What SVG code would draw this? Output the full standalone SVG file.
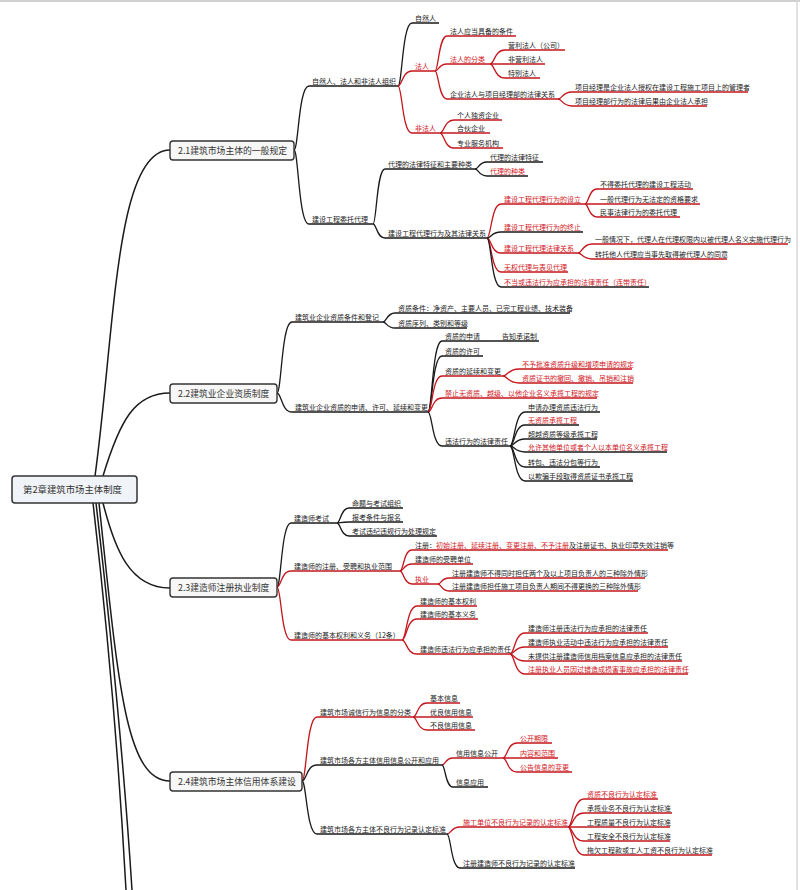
<svg xmlns="http://www.w3.org/2000/svg" width="800" height="890" viewBox="0 0 800 890">
<style>
.t{font-family:"Noto Sans CJK SC","Noto Sans",sans-serif;font-size:7px;fill:#222}
.r{font-family:"Noto Sans CJK SC","Noto Sans",sans-serif;font-size:7px;fill:#d2161c}
.bt{font-family:"Noto Sans CJK SC","Noto Sans",sans-serif;font-size:8.8px;fill:#333}
.rt{font-family:"Noto Sans CJK SC","Noto Sans",sans-serif;font-size:9.4px;fill:#333}
.box{fill:#f7f7f7;stroke:#333;stroke-width:1.4}
.root{fill:#f0f4f8;stroke:#333;stroke-width:1.5}
.lb{fill:none;stroke:#1a1a1a;stroke-width:1.3}
.lr{fill:none;stroke:#c4161c;stroke-width:1.3}
.tr{fill:none;stroke:#1a1a1a;stroke-width:1.5}
</style>
<rect x="0" y="0" width="800" height="890" fill="#fff"/>
<line x1="0" y1="1" x2="800" y2="1" stroke="#d0d0d0" stroke-width="2"/>
<line x1="797" y1="0" x2="797" y2="890" stroke="#d8d8d8" stroke-width="1.5"/>
<g id="connectors">
<!-- trunk -->
<path class="tr" d="M95 476 C115 330 115 150 170 150"/>
<path class="tr" d="M103 476 C120 420 135 393 170 393"/>
<path class="tr" d="M103 503 C115 550 130 588 170 588"/>
<path class="tr" d="M99 503 C118 680 125 781 170 781"/>
<path class="tr" d="M93 503 C110 650 120 780 126 890"/>
<path class="tr" d="M96 503 C113 650 125 780 132 890"/>
<!-- 2.1 -->
<path class="lb" d="M294 150 C298.5 150 298.5 86 309 86 H398"/>
<path class="lb" d="M294 150 C298.5 150 298.5 224 309 224 H373"/>
<path class="lb" d="M398 86 C402.2 86 402.2 23 412 23 H439"/>
<path class="lr" d="M398 86 C402.2 86 402.2 71 412 71 H435"/>
<path class="lr" d="M398 86 C402.2 86 402.2 133 412 133 H440"/>
<path class="lr" d="M435 71 C438.6 71 438.6 36 447 36 H516"/>
<path class="lr" d="M435 71 C438.6 71 438.6 64 447 64 H490"/>
<path class="lr" d="M435 71 C438.6 71 438.6 99 447 99 H558"/>
<path class="lr" d="M490 64 C494.5 64 494.5 50 505 50 H565"/>
<path class="lr" d="M490 64 C494.5 64 494.5 64 505 64 H545"/>
<path class="lr" d="M490 64 C494.5 64 494.5 78 505 78 H540"/>
<path class="lr" d="M558 99 C562.2 99 562.2 92 572 92 H748"/>
<path class="lr" d="M558 99 C562.2 99 562.2 106 572 106 H707"/>
<path class="lr" d="M440 133 C444.2 133 444.2 120 454 120 H502"/>
<path class="lr" d="M440 133 C444.2 133 444.2 133 454 133 H490"/>
<path class="lr" d="M440 133 C444.2 133 444.2 148 454 148 H503"/>
<path class="lb" d="M373 224 C376.6 224 376.6 169 385 169 H475"/>
<path class="lb" d="M373 224 C376.6 224 376.6 238 385 238 H487"/>
<path class="lb" d="M475 169 C478.6 169 478.6 162 487 162 H543"/>
<path class="lb" d="M475 169 C478.6 169 478.6 176 487 176 H528"/>
<path class="lr" d="M487 238 C491.2 238 491.2 204 501 204 H585"/>
<path class="lb" d="M487 238 C491.2 238 491.2 232 501 232 H583"/>
<path class="lr" d="M487 238 C491.2 238 491.2 253 501 253 H578"/>
<path class="lr" d="M487 238 C491.2 238 491.2 272 501 272 H568"/>
<path class="lb" d="M487 238 C491.2 238 491.2 287 501 287 H649"/>
<path class="lr" d="M585 204 C588.6 204 588.6 189 597 189 H693"/>
<path class="lr" d="M585 204 C588.6 204 588.6 204 597 204 H700"/>
<path class="lr" d="M585 204 C588.6 204 588.6 217 597 217 H680"/>
<path class="lr" d="M578 253 C582.2 253 582.2 244 592 244 H788"/>
<path class="lr" d="M578 253 C582.2 253 582.2 259 592 259 H727"/>
<!-- 2.2 -->
<path class="lb" d="M277 393 C281.5 393 281.5 322 292 322 H383"/>
<path class="lb" d="M277 393 C281.5 393 281.5 412 292 412 H428"/>
<path class="lb" d="M383 322 C386.6 322 386.6 313 395 313 H570"/>
<path class="lb" d="M383 322 C386.6 322 386.6 328 395 328 H467"/>
<path class="lb" d="M428 412 C432.2 412 432.2 341 442 341 H485"/>
<path class="lb" d="M485 341 H539"/>
<path class="lb" d="M428 412 C432.2 412 432.2 356 442 356 H483"/>
<path class="lr" d="M428 412 C432.2 412 432.2 376 442 376 H503"/>
<path class="lr" d="M428 412 C432.2 412 432.2 398 442 398 H597"/>
<path class="lb" d="M428 412 C432.2 412 432.2 446 442 446 H510"/>
<path class="lr" d="M503 376 C507.8 376 507.8 369 519 369 H632"/>
<path class="lr" d="M503 376 C507.8 376 507.8 383 519 383 H633"/>
<path class="lb" d="M510 446 C514.5 446 514.5 412 525 412 H600"/>
<path class="lb" d="M510 446 C514.5 446 514.5 425 525 425 H579"/>
<path class="lb" d="M510 446 C514.5 446 514.5 439 525 439 H597"/>
<path class="lb" d="M510 446 C514.5 446 514.5 452 525 452 H667"/>
<path class="lb" d="M510 446 C514.5 446 514.5 467 525 467 H600"/>
<path class="lb" d="M510 446 C514.5 446 514.5 481 525 481 H633"/>
<!-- 2.3 -->
<path class="lb" d="M277 587 C281.2 587 281.2 523 291 523 H337"/>
<path class="lr" d="M277 587 C281.2 587 281.2 571 291 571 H400"/>
<path class="lr" d="M277 587 C281.2 587 281.2 640 291 640 H402"/>
<path class="lb" d="M337 523 C340.6 523 340.6 508 349 508 H403"/>
<path class="lb" d="M337 523 C340.6 523 340.6 522 349 522 H403"/>
<path class="lb" d="M337 523 C340.6 523 340.6 536 349 536 H437"/>
<path class="lr" d="M400 571 C403.6 571 403.6 550 412 550 H668"/>
<path class="lr" d="M400 571 C403.6 571 403.6 564 412 564 H473"/>
<path class="lr" d="M400 571 C403.6 571 403.6 584 412 584 H438"/>
<path class="lr" d="M438 584 C441.3 584 441.3 578 449 578 H645"/>
<path class="lr" d="M438 584 C441.3 584 441.3 591 449 591 H638"/>
<path class="lr" d="M402 640 C406.5 640 406.5 606 417 606 H477"/>
<path class="lr" d="M402 640 C406.5 640 406.5 619 417 619 H478"/>
<path class="lr" d="M402 640 C406.5 640 406.5 654 417 654 H510"/>
<path class="lr" d="M510 654 C514.5 654 514.5 633 525 633 H648"/>
<path class="lr" d="M510 654 C514.5 654 514.5 647 525 647 H668"/>
<path class="lr" d="M510 654 C514.5 654 514.5 661 525 661 H682"/>
<path class="lr" d="M510 654 C514.5 654 514.5 674 525 674 H688"/>
<!-- 2.4 -->
<path class="lr" d="M302 781 C306.5 781 306.5 717 317 717 H413"/>
<path class="lb" d="M302 781 C306.5 781 306.5 765 317 765 H442"/>
<path class="lb" d="M302 781 C306.5 781 306.5 834 317 834 H447"/>
<path class="lr" d="M413 717 C417.2 717 417.2 703 427 703 H460"/>
<path class="lr" d="M413 717 C417.2 717 417.2 717 427 717 H473"/>
<path class="lr" d="M413 717 C417.2 717 417.2 730 427 730 H475"/>
<path class="lr" d="M442 765 C445.3 765 445.3 758 453 758 H503"/>
<path class="lb" d="M442 765 C445.3 765 445.3 787 453 787 H488"/>
<path class="lr" d="M503 758 C507.2 758 507.2 743 517 743 H552"/>
<path class="lr" d="M503 758 C507.2 758 507.2 758 517 758 H558"/>
<path class="lr" d="M503 758 C507.2 758 507.2 772 517 772 H572"/>
<path class="lr" d="M447 834 C450.9 834 450.9 827 460 827 H568"/>
<path class="lb" d="M447 834 C450.9 834 450.9 868 460 868 H575"/>
<path class="lr" d="M568 827 C572.8 827 572.8 799 584 799 H658"/>
<path class="lr" d="M568 827 C572.8 827 572.8 813 584 813 H672"/>
<path class="lr" d="M568 827 C572.8 827 572.8 827 584 827 H670"/>
<path class="lr" d="M568 827 C572.8 827 572.8 841 584 841 H670"/>
<path class="lr" d="M568 827 C572.8 827 572.8 855 584 855 H712"/>
</g>
<g id="root"><rect class="root" x="12" y="476" width="125" height="27" rx="3"/><text class="rt" x="23" y="492.5">第2章建筑市场主体制度</text></g>
<g id="s21"><rect class="box" x="170" y="141" width="124" height="19" rx="3"/><text class="bt" x="178" y="154">2.1建筑市场主体的一般规定</text></g>
<g id="s22"><rect class="box" x="170" y="384" width="107" height="19" rx="3"/><text class="bt" x="178" y="396.5">2.2建筑业企业资质制度</text></g>
<g id="s23"><rect class="box" x="170" y="578" width="107" height="19" rx="3"/><text class="bt" x="178" y="590.5">2.3建造师注册执业制度</text></g>
<g id="s24"><rect class="box" x="170" y="772" width="132" height="19" rx="3"/><text class="bt" x="178" y="784.5">2.4建筑市场主体信用体系建设</text></g>
<g id="n21">
<text class="t" x="312" y="83.5">自然人、法人和非法人组织</text>
<text class="t" x="312" y="221.5">建设工程委托代理</text>
<text class="t" x="415" y="20.5">自然人</text>
<text class="r" x="415" y="68.5">法人</text>
<text class="r" x="415" y="130.5">非法人</text>
<text class="t" x="450" y="33.5">法人应当具备的条件</text>
<text class="r" x="450" y="61.5">法人的分类</text>
<text class="t" x="450" y="96.5">企业法人与项目经理部的法律关系</text>
<text class="t" x="508" y="47.5">营利法人（公司）</text>
<text class="t" x="508" y="61.5">非营利法人</text>
<text class="t" x="508" y="75.5">特别法人</text>
<text class="t" x="575" y="89.5">项目经理是企业法人授权在建设工程施工项目上的管理者</text>
<text class="t" x="575" y="103.5">项目经理部行为的法律后果由企业法人承担</text>
<text class="t" x="457" y="117.5">个人独资企业</text>
<text class="t" x="457" y="130.5">合伙企业</text>
<text class="t" x="457" y="145.5">专业服务机构</text>
<text class="t" x="388" y="166.5">代理的法律特征和主要种类</text>
<text class="t" x="388" y="235.5">建设工程代理行为及其法律关系</text>
<text class="t" x="490" y="159.5">代理的法律特征</text>
<text class="r" x="490" y="173.5">代理的种类</text>
<text class="r" x="504" y="201.5">建设工程代理行为的设立</text>
<text class="r" x="504" y="229.5">建设工程代理行为的终止</text>
<text class="r" x="504" y="250.5">建设工程代理法律关系</text>
<text class="r" x="504" y="269.5">无权代理与表见代理</text>
<text class="r" x="504" y="284.5">不当或违法行为应承担的法律责任（连带责任）</text>
<text class="t" x="600" y="186.5">不得委托代理的建设工程活动</text>
<text class="t" x="600" y="201.5">一般代理行为无法定的资格要求</text>
<text class="t" x="600" y="214.5">民事法律行为的委托代理</text>
<text class="t" x="595" y="241.5">一般情况下，代理人在代理权限内以被代理人名义实施代理行为</text>
<text class="t" x="595" y="256.5">转托他人代理应当事先取得被代理人的同意</text>
</g>
<g id="n22">
<text class="t" x="295" y="319.5">建筑业企业资质条件和登记</text>
<text class="t" x="295" y="409.5">建筑业企业资质的申请、许可、延续和变更</text>
<text class="t" x="398" y="310.5">资质条件：净资产、主要人员、已完工程业绩、技术装备</text>
<text class="t" x="398" y="325.5">资质序列、类别和等级</text>
<text class="t" x="445" y="338.5">资质的申请</text>
<text class="t" x="502" y="338.5">告知承诺制</text>
<text class="t" x="445" y="353.5">资质的许可</text>
<text class="t" x="445" y="373.5">资质的延续和变更</text>
<text class="r" x="445" y="395.5">禁止无资质、越级、以他企业名义承揽工程的规定</text>
<text class="t" x="445" y="443.5">违法行为的法律责任</text>
<text class="r" x="522" y="366.5">不予批准资质升级和增项申请的规定</text>
<text class="r" x="522" y="380.5">资质证书的撤回、撤销、吊销和注销</text>
<text class="t" x="528" y="409.5">申请办理资质违法行为</text>
<text class="r" x="528" y="422.5">无资质承揽工程</text>
<text class="t" x="528" y="436.5">超越资质等级承揽工程</text>
<text class="r" x="528" y="449.5">允许其他单位或者个人以本单位名义承揽工程</text>
<text class="t" x="528" y="464.5">转包、违法分包等行为</text>
<text class="t" x="528" y="478.5">以欺骗手段取得资质证书承揽工程</text>
</g>
<g id="n23">
<text class="t" x="294" y="520.5">建造师考试</text>
<text class="t" x="294" y="568.5">建造师的注册、受聘和执业范围</text>
<text class="t" x="294" y="637.5">建造师的基本权利和义务（12条）</text>
<text class="t" x="352" y="505.5">命题与考试组织</text>
<text class="t" x="352" y="519.5">报考条件与报名</text>
<text class="t" x="352" y="533.5">考试违纪违规行为处理规定</text>
<text class="t" x="415" y="547.5">注册：<tspan class="r">初始注册、延续注册、变更注册、不予注册</tspan>及注册证书、执业印章失效注销等</text>
<text class="t" x="415" y="561.5">建造师的受聘单位</text>
<text class="r" x="415" y="581.5">执业</text>
<text class="t" x="452" y="575.5">注册建造师不得同时担任两个及以上项目负责人的三种除外情形</text>
<text class="t" x="452" y="588.5">注册建造师担任施工项目负责人期间不得更换的三种除外情形</text>
<text class="t" x="420" y="603.5">建造师的基本权利</text>
<text class="t" x="420" y="616.5">建造师的基本义务</text>
<text class="t" x="420" y="651.5">建造师违法行为应承担的责任</text>
<text class="t" x="528" y="630.5">建造师注册违法行为应承担的法律责任</text>
<text class="t" x="528" y="644.5">建造师执业活动中违法行为应承担的法律责任</text>
<text class="t" x="528" y="658.5">未提供注册建造师信用档案信息应承担的法律责任</text>
<text class="r" x="528" y="671.5">注册执业人员因过错造成损害事故应承担的法律责任</text>
</g>
<g id="n24">
<text class="t" x="320" y="714.5">建筑市场诚信行为信息的分类</text>
<text class="t" x="320" y="762.5">建筑市场各方主体信用信息公开和应用</text>
<text class="t" x="320" y="831.5">建筑市场各方主体不良行为记录认定标准</text>
<text class="t" x="430" y="700.5">基本信息</text>
<text class="t" x="430" y="714.5">优良信用信息</text>
<text class="t" x="430" y="727.5">不良信用信息</text>
<text class="t" x="456" y="755.5">信用信息公开</text>
<text class="t" x="456" y="784.5">信息应用</text>
<text class="r" x="520" y="740.5">公开期限</text>
<text class="r" x="520" y="755.5">内容和范围</text>
<text class="r" x="520" y="769.5">公告信息的变更</text>
<text class="r" x="463" y="824.5">施工单位不良行为记录的认定标准</text>
<text class="t" x="463" y="865.5">注册建造师不良行为记录的认定标准</text>
<text class="r" x="587" y="796.5">资质不良行为认定标准</text>
<text class="t" x="587" y="810.5">承揽业务不良行为认定标准</text>
<text class="t" x="587" y="824.5">工程质量不良行为认定标准</text>
<text class="t" x="587" y="838.5">工程安全不良行为认定标准</text>
<text class="t" x="587" y="852.5">拖欠工程款或工人工资不良行为认定标准</text>
</g>
</svg>
